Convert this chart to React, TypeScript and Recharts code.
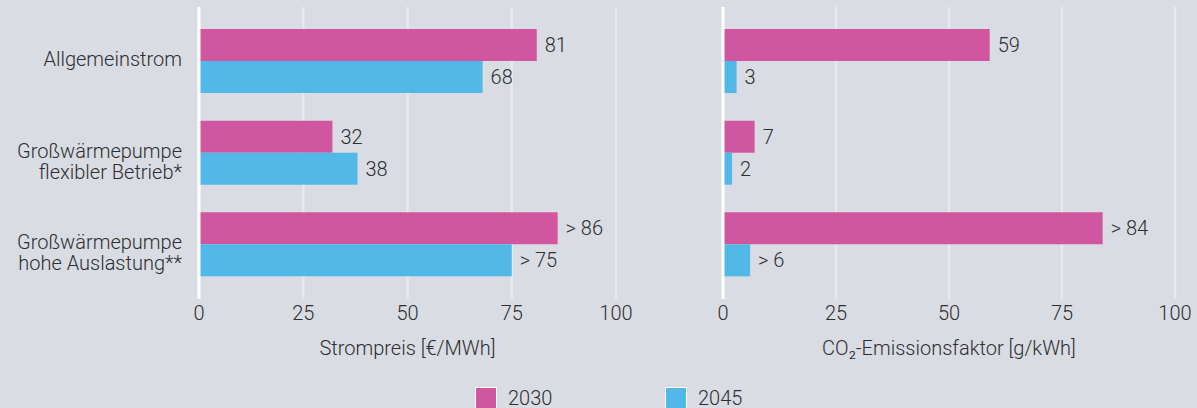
import {
  Bar,
  BarChart,
  CartesianGrid,
  LabelList,
  ReferenceLine,
  XAxis,
  YAxis,
} from "recharts";

const categories = [
  "Allgemeinstrom",
  "Großwärmepumpe\nflexibler Betrieb*",
  "Großwärmepumpe\nhohe Auslastung**",
];
const price2030 = [81, 32, 86];
const price2045 = [68, 38, 75];
const priceLabels2030 = ["81", "32", "> 86"];
const priceLabels2045 = ["68", "38", "> 75"];
const co2_2030 = [59, 7, 84];
const co2_2045 = [3, 2, 6];
const co2Labels2030 = ["59", "7", "> 84"];
const co2Labels2045 = ["3", "2", "> 6"];
const xTicks = [0, 25, 50, 75, 100];
const years = ["2030", "2045"];

const PINK = "#d0579f";
const BLUE = "#52b8e8";
const BG = "#d9dce3";
const TEXT = "#2e2e30";
const GRID = "#e8e9ec";
const FONT = "Roboto, sans-serif";
const FS = 20;
const FW = 300;

const priceData = categories.map((c, i) => ({
  cat: c,
  v2030: price2030[i],
  v2045: price2045[i],
  l2030: priceLabels2030[i],
  l2045: priceLabels2045[i],
}));

const co2Data = categories.map((c, i) => ({
  cat: c,
  v2030: co2_2030[i],
  v2045: co2_2045[i],
  l2030: co2Labels2030[i],
  l2045: co2Labels2045[i],
}));

function CategoryTick(props: any) {
  const { x, y, payload } = props;
  const lines = String(payload.value).split("\n");
  return (
    <text
      x={x}
      y={y}
      textAnchor="end"
      fill={TEXT}
      fontSize={FS}
      fontWeight={FW}
      fontFamily={FONT}
    >
      {lines.map((line, i) => (
        <tspan key={i} x={x} dy={i === 0 ? "0.25em" : 21}>
          {line}
        </tspan>
      ))}
    </text>
  );
}

function Panel({
  data,
  width,
  margin,
  label,
  showCats,
}: {
  data: any[];
  width: number;
  margin: any;
  label: string;
  showCats: boolean;
}) {
  const textStyle = { fill: TEXT, fontSize: FS, fontWeight: FW, fontFamily: FONT };
  return (
    <BarChart
      width={width}
      height={370}
      data={data}
      layout="vertical"
      margin={margin}
      barGap={0}
      barSize={32}
    >
      <CartesianGrid horizontal={false} stroke={GRID} strokeWidth={2.5} />
      <XAxis
        type="number"
        domain={[0, 100]}
        ticks={xTicks}
        axisLine={false}
        tickLine={false}
        tickSize={0}
        tickMargin={7}
        height={60}
        tick={textStyle}
        label={{ value: label, position: "insideBottom", offset: 4, ...textStyle }}
      />
      <YAxis
        type="category"
        dataKey="cat"
        hide={!showCats}
        width={showCats ? 199 : 0}
        axisLine={false}
        tickLine={false}
        tickSize={0}
        tickMargin={17}
        padding={{ top: 8, bottom: 9 }}
        tick={<CategoryTick />}
        interval={0}
      />
      <ReferenceLine x={0} stroke="#ffffff" strokeWidth={3} />
      <Bar dataKey="v2030" fill={PINK} isAnimationActive={false}>
        <LabelList dataKey="l2030" position="right" offset={8} {...textStyle} />
      </Bar>
      <Bar dataKey="v2045" fill={BLUE} isAnimationActive={false}>
        <LabelList dataKey="l2045" position="right" offset={8} {...textStyle} />
      </Bar>
    </BarChart>
  );
}

export default function App() {
  return (
    <div
      style={{
        position: "fixed",
        left: 0,
        top: 0,
        width: 1197,
        height: 408,
        background: BG,
        overflow: "hidden",
        fontFamily: FONT,
      }}
    >
      <div style={{ position: "absolute", left: 0, top: 0 }}>
        <Panel
          data={priceData}
          width={660}
          margin={{ top: 7, right: 44, bottom: 11, left: 0 }}
          label="Strompreis [€/MWh]"
          showCats
        />
      </div>
      <div style={{ position: "absolute", left: 700, top: 0 }}>
        <Panel
          data={co2Data}
          width={497}
          margin={{ top: 7, right: 22, bottom: 11, left: 23 }}
          label="CO₂-Emissionsfaktor [g/kWh]"
          showCats={false}
        />
      </div>
      {years.map((y, i) => (
        <div
          key={y}
          style={{
            position: "absolute",
            left: i === 0 ? 475 : 665,
            top: 386,
            display: "flex",
            alignItems: "center",
            color: TEXT,
            fontSize: FS,
            fontWeight: FW,
          }}
        >
          <div
            style={{
              width: 20,
              height: 20,
              background: i === 0 ? PINK : BLUE,
              border: "1px solid #ffffff",
              marginRight: 11,
            }}
          />
          <span>{y}</span>
        </div>
      ))}
    </div>
  );
}
